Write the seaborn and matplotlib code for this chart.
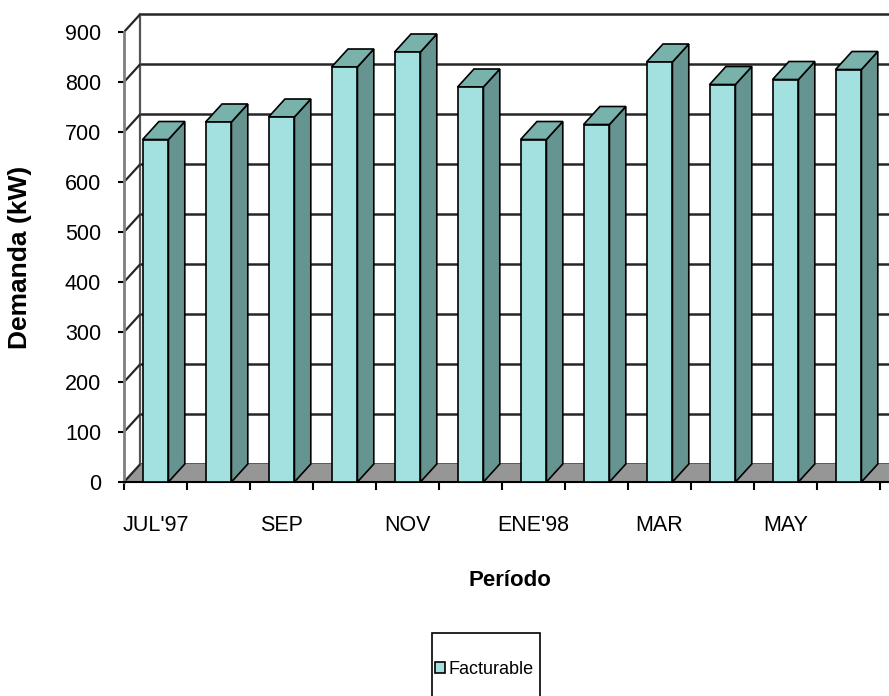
import numpy as np
import pandas as pd
import matplotlib
matplotlib.use('Agg')
import matplotlib.pyplot as plt
from matplotlib.patches import Polygon, Patch, Rectangle
import seaborn as sns

# data
months = ["JUL'97", "AGO", "SEP", "OCT", "NOV", "DIC",
          "ENE'98", "FEB", "MAR", "ABR", "MAY", "JUN"]
facturable = [685, 720, 730, 830, 860, 790, 685, 715, 840, 795, 805, 825]
y_ticks = [0, 100, 200, 300, 400, 500, 600, 700, 800, 900]

front_color = '#a3e0e0'
side_color = '#669490'
top_color = '#78b2aa'
floor_color = '#969696'
grid_color = '#262626'

sns.set_style('white')
plt.rcParams['font.family'] = ['Liberation Sans', 'DejaVu Sans']
for key in ['text.color', 'axes.labelcolor', 'xtick.color', 'ytick.color']:
    plt.rcParams[key] = 'black'

df = pd.DataFrame({'Periodo': months, 'Facturable': facturable})

fig = plt.figure(figsize=(8.89, 6.96), dpi=100)
ax = fig.add_axes([124 / 889, 214 / 696, 765 / 889, 470 / 696])

# fake 3D depth (category units, kW units)
dx = 0.26
dy = 36
x_left = -0.5
x_right = 20

# back wall gridlines and side wall diagonals
for v in y_ticks:
    ax.plot([x_left, x_left + dx], [v, v + dy], color=grid_color, lw=1.6, zorder=2, solid_capstyle='butt')
    ax.plot([x_left + dx, x_right], [v + dy, v + dy], color=grid_color, lw=1.8, zorder=1)
ax.plot([x_left + dx, x_left + dx], [dy, y_ticks[-1] + dy], color='#555555', lw=1.6, zorder=1)

# floor
floor = Polygon([(x_left, 0), (x_right, 0), (x_right + dx, dy), (x_left + dx, dy)],
                closed=True, facecolor=floor_color, edgecolor='none', zorder=1.5)
ax.add_patch(floor)

# front faces
sns.barplot(data=df, x='Periodo', y='Facturable', color=front_color, width=0.41,
            saturation=1, edgecolor='black', linewidth=1.2, ax=ax, zorder=5)

# side and top faces from the drawn bars
for bar in ax.patches[1:]:
    x0 = bar.get_x()
    x1 = x0 + bar.get_width()
    h = bar.get_height()
    side = Polygon([(x1, 0), (x1 + dx, dy), (x1 + dx, h + dy), (x1, h)], closed=True,
                   facecolor=side_color, edgecolor='black', lw=1.2, zorder=4)
    top = Polygon([(x0, h), (x1, h), (x1 + dx, h + dy), (x0 + dx, h + dy)], closed=True,
                  facecolor=top_color, edgecolor='black', lw=1.2, zorder=4)
    ax.add_patch(side)
    ax.add_patch(top)

ax.set_xlim(-0.5, -0.5 + 765 / 63)
ax.set_ylim(0, 940)

ax.set_yticks(y_ticks)
ax.tick_params(axis='y', length=4.5, width=1.5, labelsize=15.5, pad=12, left=True)
ax.set_xticks(range(0, 12, 2))
ax.set_xticklabels(months[::2])
ax.set_xticks(np.arange(-0.5, 12, 1), minor=True)
ax.tick_params(axis='x', which='major', length=0, labelsize=15.5, pad=24)
ax.tick_params(axis='x', which='minor', length=6, width=1.5, bottom=True)
ax.set_xlabel('')
ax.set_ylabel('')

for s in ['top', 'right']:
    ax.spines[s].set_visible(False)
ax.spines['left'].set_bounds(0, 900)
ax.spines['left'].set_color('#7f7f7f')
ax.spines['left'].set_linewidth(2)
ax.spines['bottom'].set_color('black')
ax.spines['bottom'].set_linewidth(1.5)

fig.text(20 / 889, 1 - 257 / 696, 'Demanda (kW)', rotation=90, ha='center', va='center',
         fontsize=19, fontweight='bold')
fig.text(510 / 889, 1 - 580 / 696, 'Período', ha='center', va='center',
         fontsize=16, fontweight='bold')

# legend: box runs off the bottom of the figure like the reference
box = Rectangle((432 / 889, -0.02), 108 / 889, (696 - 633) / 696 + 0.02,
                transform=fig.transFigure, facecolor='white', edgecolor='black', lw=1.2)
fig.patches.append(box)
handle = Patch(facecolor=front_color, edgecolor='black', lw=1.2)
leg = fig.legend(handles=[handle], labels=['Facturable'], loc='center',
                 bbox_to_anchor=(484 / 889, 1 - 669 / 696), fontsize=13,
                 handlelength=0.55, handleheight=0.55, handletextpad=0.2,
                 borderpad=0, borderaxespad=0, frameon=False)

fig.savefig('out.png', dpi=100)
